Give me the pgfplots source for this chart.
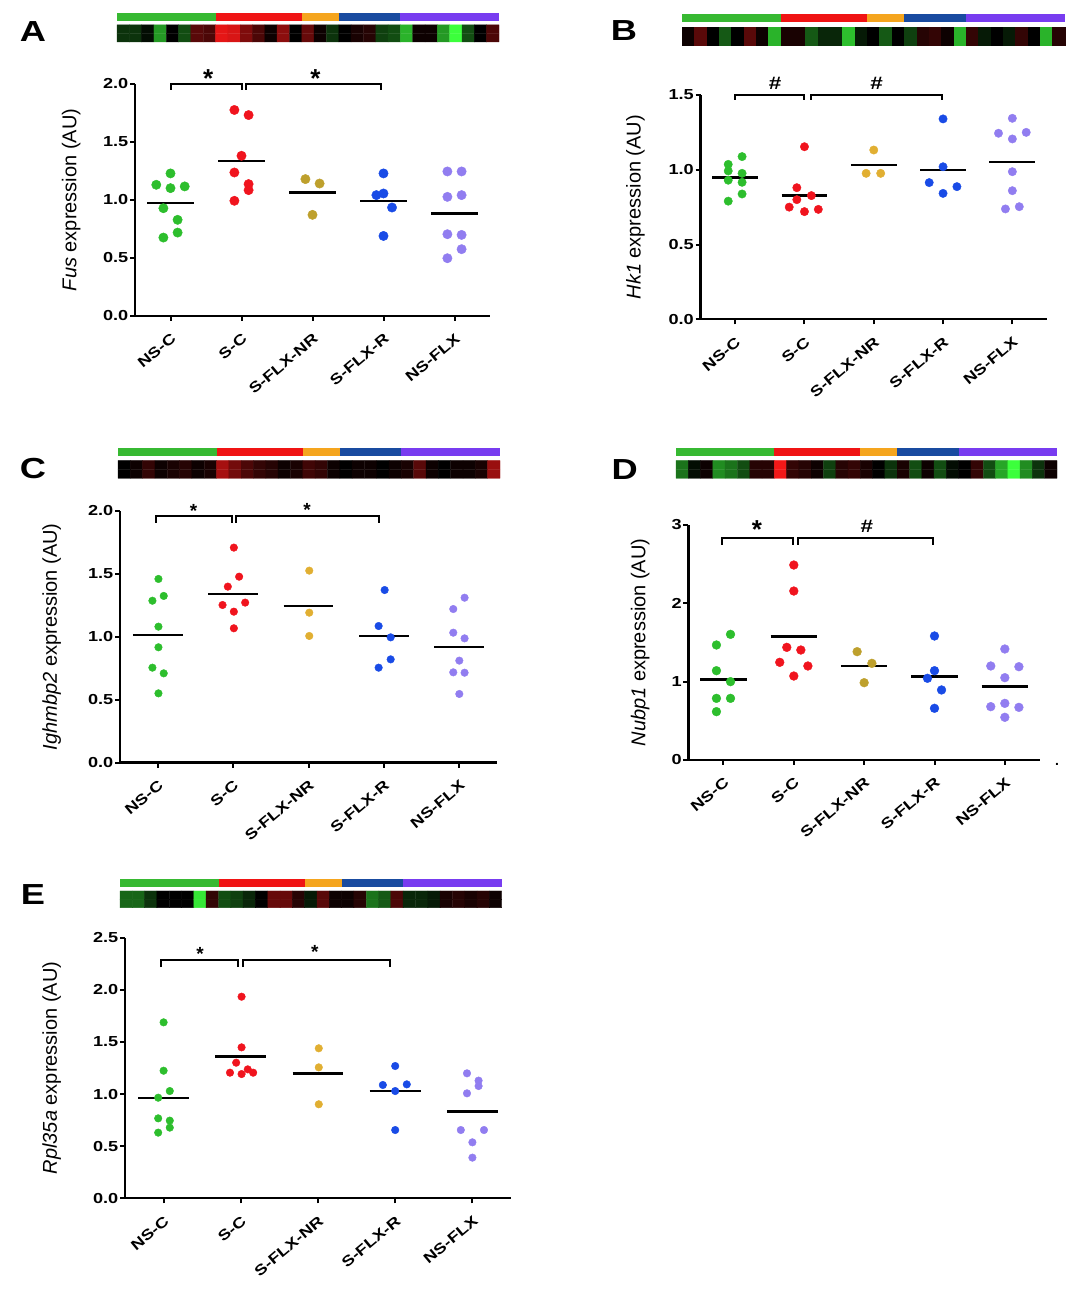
\documentclass[border=0pt]{standalone}
\usepackage{fontspec}
\setmainfont{Liberation Sans}
\newfontfamily\wide{Liberation Sans}[FakeStretch=1.25]
\usepackage{pgfplots}
\pgfplotsset{compat=1.18}

\definecolor{cNSC}{RGB}{45,190,45}
\definecolor{cSC}{RGB}{240,20,30}
\definecolor{cNRa}{RGB}{190,160,45}
\definecolor{cNRb}{RGB}{225,175,50}
\definecolor{cR}{RGB}{25,75,230}
\definecolor{cFLX}{RGB}{145,125,240}
\definecolor{bG}{RGB}{55,185,50}
\definecolor{bR}{RGB}{240,20,20}
\definecolor{bO}{RGB}{245,165,30}
\definecolor{bB}{RGB}{25,75,160}
\definecolor{bP}{RGB}{120,60,240}
\newcommand{\fs}[1]{\fontsize{#1}{#1}\selectfont}

\pgfplotsset{
  dots/.style={
    scale only axis, anchor=south west, clip=false,
    xmin=-0.5, xmax=4.5, ymin=0,
    axis lines=left,
    axis line style={-, line width=2.4pt, black},
    every outer x axis line/.append style={-},
    every outer y axis line/.append style={-},
    tick align=outside, major tick length=5pt,
    tick style={line width=2pt, black},
    xtick={0,1,2,3,4},
    xticklabels={NS-C,S-C,S-FLX-NR,S-FLX-R,NS-FLX},
    x tick label style={yshift=-10pt, rotate=40, anchor=north east, inner sep=1pt, font=\wide\bfseries\fs{14.5}},
    y tick label style={font=\wide\bfseries\fs{14.5}, inner sep=1.5pt},
    /pgf/number format/assume math mode=true,
    ylabel style={font=\fs{20}, anchor=center},
  },
  fix1/.style={y tick label style={/pgf/number format/fixed, /pgf/number format/fixed zerofill, /pgf/number format/precision=1}},
  grp/.style 2 args={only marks, mark=*, mark size=#2pt, color=#1, mark options={draw=none, fill=#1}},
  mean/.style={no marks, black, line width=2.4pt},
  strip/.style={scale only axis, anchor=south west, hide axis, xmin=-0.5, xmax=30.5, ymin=-0.5, ymax=2.9,
    colormap={gkr}{rgb255=(60,255,60) rgb255=(0,0,0) rgb255=(255,25,25)},
    point meta min=-1, point meta max=1, clip=false},
  heat/.style={matrix plot*, mesh/cols=31, point meta=explicit},
  seg/.style={draw=none, no marks, fill=#1},
}
\tikzset{
  brk/.style={line width=2pt, black},
  letter/.style={font=\wide\bfseries\fs{29}, anchor=base, inner sep=0pt},
  star/.style={font=\bfseries\fs{#1}, inner sep=0pt, yshift=-0.215*#1pt},
  hash/.style={font=\wide\bfseries\fs{18}, inner sep=0pt},
}

\begin{document}
\begin{tikzpicture}[x=1pt,y=1pt]
\path[use as bounding box] (0,0) rectangle (1082,1300);

%================ A =================
\node[letter] at (33,1258.3) {A};
\begin{axis}[strip, at={(117pt,1258pt)}, width=382pt, height=29pt]
\addplot[heat] coordinates {(0,0)[-0.2] (1,0)[-0.2] (2,0)[-0.05] (3,0)[-0.6] (4,0)[0] (5,0)[-0.3] (6,0)[0.35] (7,0)[0.3] (8,0)[0.9] (9,0)[0.85] (10,0)[0.5] (11,0)[0.3] (12,0)[0.05] (13,0)[0.55] (14,0)[0] (15,0)[0.4] (16,0)[0.05] (17,0)[-0.2] (18,0)[0] (19,0)[0.1] (20,0)[0.15] (21,0)[-0.25] (22,0)[-0.3] (23,0)[-0.7] (24,0)[0.05] (25,0)[0.05] (26,0)[-0.6] (27,0)[-1] (28,0)[-0.3] (29,0)[0] (30,0)[0.3]
(0,1)[-0.2] (1,1)[-0.2] (2,1)[-0.05] (3,1)[-0.6] (4,1)[0] (5,1)[-0.3] (6,1)[0.35] (7,1)[0.3] (8,1)[0.9] (9,1)[0.85] (10,1)[0.5] (11,1)[0.3] (12,1)[0.05] (13,1)[0.55] (14,1)[0] (15,1)[0.4] (16,1)[0.05] (17,1)[-0.2] (18,1)[0] (19,1)[0.1] (20,1)[0.15] (21,1)[-0.25] (22,1)[-0.3] (23,1)[-0.7] (24,1)[0.05] (25,1)[0.05] (26,1)[-0.6] (27,1)[-1] (28,1)[-0.3] (29,1)[0] (30,1)[0.3]};
\addplot[seg=bG] coordinates {(-0.5,2) (7.5,2) (7.5,2.9) (-0.5,2.9)};
\addplot[seg=bR] coordinates {(7.5,2) (14.5,2) (14.5,2.9) (7.5,2.9)};
\addplot[seg=bO] coordinates {(14.5,2) (17.5,2) (17.5,2.9) (14.5,2.9)};
\addplot[seg=bB] coordinates {(17.5,2) (22.5,2) (22.5,2.9) (17.5,2.9)};
\addplot[seg=bP] coordinates {(22.5,2) (30.5,2) (30.5,2.9) (22.5,2.9)};
\end{axis}
\begin{axis}[dots, fix1, at={(135pt,984pt)}, width=355pt, height=232pt, ymax=2, ytick={0,0.5,1,1.5,2},
  ylabel={{\itshape Fus} expression (AU)}, ylabel style={at={(axis description cs:-0.18,0.5)}}]
\addplot[grp={cNSC}{4.7}] coordinates {(0,1.229) (-0.2,1.131) (0,1.102) (0.2,1.117) (-0.1,0.929) (0.1,0.829) (0.1,0.719) (-0.1,0.676)};
\addplot[grp={cSC}{4.7}] coordinates {(0.9,1.776) (1.1,1.732) (1.0,1.381) (0.9,1.237) (1.1,1.137) (1.1,1.085) (0.9,0.993)};
\addplot[grp={cNRa}{4.7}] coordinates {(1.9,1.18) (2.1,1.142) (2.0,0.872)};
\addplot[grp={cR}{4.7}] coordinates {(3.0,1.229) (2.9,1.042) (3.0,1.056) (3.12,0.935) (3.0,0.69)};
\addplot[grp={cFLX}{4.7}] coordinates {(3.9,1.246) (4.1,1.246) (3.9,1.027) (4.1,1.042) (3.9,0.705) (4.1,0.699) (4.1,0.576) (3.9,0.498)};
\addplot[mean] coordinates {(-0.33,0.973) (0.33,0.973)};
\addplot[mean] coordinates {(0.67,1.338) (1.33,1.338)};
\addplot[mean] coordinates {(1.67,1.065) (2.33,1.065)};
\addplot[mean] coordinates {(2.67,0.993) (3.33,0.993)};
\addplot[mean] coordinates {(3.67,0.883) (4.33,0.883)};
\draw[brk] ([yshift=-6pt]axis cs:0,2) -- (axis cs:0,2) -- (axis cs:1,2) -- ([yshift=-6pt]axis cs:1,2);
\draw[brk] ([yshift=-6pt]axis cs:1.06,2) -- (axis cs:1.06,2) -- (axis cs:2.96,2) -- ([yshift=-6pt]axis cs:2.96,2);
\node[star=26] at (axis cs:0.53,2.092) {*};
\node[star=26] at (axis cs:2.04,2.092) {*};
\end{axis}

%================ B =================
\node[letter] at (624,1259.3) {B};
\begin{axis}[strip, at={(682pt,1254.3pt)}, width=383pt, height=31.7pt]
\addplot[heat] coordinates {(0,0)[0.05] (1,0)[0.35] (2,0)[0] (3,0)[-0.35] (4,0)[0] (5,0)[0.35] (6,0)[0.05] (7,0)[-0.7] (8,0)[0.1] (9,0)[0.1] (10,0)[-0.35] (11,0)[-0.15] (12,0)[-0.15] (13,0)[-0.75] (14,0)[-0.1] (15,0)[0] (16,0)[-0.35] (17,0)[0] (18,0)[-0.25] (19,0)[0.15] (20,0)[0.2] (21,0)[0.05] (22,0)[-0.7] (23,0)[0.2] (24,0)[-0.1] (25,0)[0] (26,0)[-0.1] (27,0)[0.2] (28,0)[0] (29,0)[-0.7] (30,0)[0.15]
(0,1)[0.05] (1,1)[0.35] (2,1)[0] (3,1)[-0.35] (4,1)[0] (5,1)[0.35] (6,1)[0.05] (7,1)[-0.7] (8,1)[0.1] (9,1)[0.1] (10,1)[-0.35] (11,1)[-0.15] (12,1)[-0.15] (13,1)[-0.75] (14,1)[-0.1] (15,1)[0] (16,1)[-0.35] (17,1)[0] (18,1)[-0.25] (19,1)[0.15] (20,1)[0.2] (21,1)[0.05] (22,1)[-0.7] (23,1)[0.2] (24,1)[-0.1] (25,1)[0] (26,1)[-0.1] (27,1)[0.2] (28,1)[0] (29,1)[-0.7] (30,1)[0.15]};
\addplot[seg=bG] coordinates {(-0.5,2) (7.5,2) (7.5,2.9) (-0.5,2.9)};
\addplot[seg=bR] coordinates {(7.5,2) (14.5,2) (14.5,2.9) (7.5,2.9)};
\addplot[seg=bO] coordinates {(14.5,2) (17.5,2) (17.5,2.9) (14.5,2.9)};
\addplot[seg=bB] coordinates {(17.5,2) (22.5,2) (22.5,2.9) (17.5,2.9)};
\addplot[seg=bP] coordinates {(22.5,2) (30.5,2) (30.5,2.9) (22.5,2.9)};
\end{axis}
\begin{axis}[dots, fix1, at={(700.5pt,980.7pt)}, width=346.5pt, height=224.3pt, ymax=1.5, ytick={0,0.5,1,1.5},
  ylabel={{\itshape Hk1} expression (AU)}, ylabel style={at={(axis description cs:-0.188,0.5)}}]
\addplot[grp={cNSC}{4.2}] coordinates {(-0.1,1.036) (0.1,1.088) (-0.1,0.992) (0.1,0.976) (-0.1,0.93) (0.1,0.916) (-0.1,0.79) (0.1,0.838)};
\addplot[grp={cSC}{4.2}] coordinates {(1.0,1.154) (0.89,0.88) (1.1,0.827) (0.89,0.80) (0.78,0.75) (1.0,0.72) (1.2,0.735)};
\addplot[grp={cNRb}{4.2}] coordinates {(2.0,1.132) (1.89,0.976) (2.1,0.976)};
\addplot[grp={cR}{4.2}] coordinates {(3.0,1.34) (3.0,1.02) (2.8,0.914) (3.2,0.887) (3.0,0.842)};
\addplot[grp={cFLX}{4.2}] coordinates {(4.0,1.344) (3.8,1.244) (4.2,1.25) (4.0,1.206) (4.0,0.987) (4.0,0.86) (3.9,0.738) (4.1,0.753)};
\addplot[mean] coordinates {(-0.33,0.947) (0.33,0.947)};
\addplot[mean] coordinates {(0.67,0.827) (1.33,0.827)};
\addplot[mean] coordinates {(1.67,1.032) (2.33,1.032)};
\addplot[mean] coordinates {(2.67,0.998) (3.33,0.998)};
\addplot[mean] coordinates {(3.67,1.05) (4.33,1.05)};
\draw[brk] ([yshift=-5pt]axis cs:0,1.5) -- (axis cs:0,1.5) -- (axis cs:1,1.5) -- ([yshift=-5pt]axis cs:1,1.5);
\draw[brk] ([yshift=-5pt]axis cs:1.09,1.5) -- (axis cs:1.09,1.5) -- (axis cs:2.985,1.5) -- ([yshift=-5pt]axis cs:2.985,1.5);
\node[hash] at (axis cs:0.575,1.578) {\#};
\node[hash] at (axis cs:2.04,1.578) {\#};
\end{axis}

%================ C =================
\node[letter] at (33,821.7) {C};
\begin{axis}[strip, at={(118pt,821.7pt)}, width=382pt, height=30pt]
\addplot[heat] coordinates {(0,0)[0] (1,0)[0.05] (2,0)[0.2] (3,0)[0.05] (4,0)[0.1] (5,0)[0.15] (6,0)[0.05] (7,0)[0.1] (8,0)[0.65] (9,0)[0.45] (10,0)[0.3] (11,0)[0.2] (12,0)[0.15] (13,0)[0.05] (14,0)[0.1] (15,0)[0.25] (16,0)[0.2] (17,0)[0.05] (18,0)[0] (19,0)[0.05] (20,0)[0.05] (21,0)[0] (22,0)[0.05] (23,0)[0.1] (24,0)[0.35] (25,0)[0.05] (26,0)[0] (27,0)[0.05] (28,0)[0.05] (29,0)[0.1] (30,0)[0.6]
(0,1)[0] (1,1)[0.05] (2,1)[0.2] (3,1)[0.05] (4,1)[0.1] (5,1)[0.15] (6,1)[0.05] (7,1)[0.1] (8,1)[0.65] (9,1)[0.45] (10,1)[0.3] (11,1)[0.2] (12,1)[0.15] (13,1)[0.05] (14,1)[0.1] (15,1)[0.25] (16,1)[0.2] (17,1)[0.05] (18,1)[0] (19,1)[0.05] (20,1)[0.05] (21,1)[0] (22,1)[0.05] (23,1)[0.1] (24,1)[0.35] (25,1)[0.05] (26,1)[0] (27,1)[0.05] (28,1)[0.05] (29,1)[0.1] (30,1)[0.6]};
\addplot[seg=bG] coordinates {(-0.5,2) (7.5,2) (7.5,2.9) (-0.5,2.9)};
\addplot[seg=bR] coordinates {(7.5,2) (14.5,2) (14.5,2.9) (7.5,2.9)};
\addplot[seg=bO] coordinates {(14.5,2) (17.5,2) (17.5,2.9) (14.5,2.9)};
\addplot[seg=bB] coordinates {(17.5,2) (22.5,2) (22.5,2.9) (17.5,2.9)};
\addplot[seg=bP] coordinates {(22.5,2) (30.5,2) (30.5,2.9) (22.5,2.9)};
\end{axis}
\begin{axis}[dots, fix1, at={(120pt,537.3pt)}, width=377pt, height=251.7pt, ymax=2, ytick={0,0.5,1,1.5,2},
  ylabel={{\itshape Ighmbp2} expression (AU)}, ylabel style={at={(axis description cs:-0.181,0.5)}}]
\addplot[grp={cNSC}{3.8}] coordinates {(0.01,1.46) (0.08,1.325) (-0.07,1.287) (0.01,1.081) (0.01,0.917) (-0.07,0.755) (0.08,0.71) (0.01,0.551)};
\addplot[grp={cSC}{3.8}] coordinates {(1.01,1.709) (1.08,1.478) (0.93,1.399) (0.86,1.253) (1.16,1.272) (1.01,1.2) (1.01,1.068)};
\addplot[grp={cNRb}{3.8}] coordinates {(2.01,1.526) (2.01,1.192) (2.01,1.007)};
\addplot[grp={cR}{3.8}] coordinates {(3.01,1.372) (2.93,1.086) (3.09,0.996) (3.09,0.821) (2.93,0.755)};
\addplot[grp={cFLX}{3.8}] coordinates {(4.07,1.311) (3.92,1.221) (3.92,1.033) (4.07,0.988) (4.0,0.811) (3.92,0.718) (4.07,0.715) (4.0,0.546)};
\addplot[mean] coordinates {(-0.33,1.015) (0.33,1.015)};
\addplot[mean] coordinates {(0.67,1.34) (1.33,1.34)};
\addplot[mean] coordinates {(1.67,1.245) (2.33,1.245)};
\addplot[mean] coordinates {(2.67,1.007) (3.33,1.007)};
\addplot[mean] coordinates {(3.67,0.917) (4.33,0.917)};
\draw[brk] ([yshift=-6.5pt]axis cs:-0.02,1.96) -- (axis cs:-0.02,1.96) -- (axis cs:0.99,1.96) -- ([yshift=-6.5pt]axis cs:0.99,1.96);
\draw[brk] ([yshift=-6.5pt]axis cs:1.036,1.96) -- (axis cs:1.036,1.96) -- (axis cs:2.93,1.96) -- ([yshift=-6.5pt]axis cs:2.93,1.96);
\node[star=19] at (axis cs:0.476,2.029) {*};
\node[star=19] at (axis cs:1.98,2.04) {*};
\end{axis}

%================ D =================
\node[letter] at (624.7,820) {D};
\begin{axis}[strip, at={(676pt,821.7pt)}, width=381pt, height=30pt]
\addplot[heat] coordinates {(0,0)[-0.45] (1,0)[-0.05] (2,0)[0.05] (3,0)[-0.55] (4,0)[-0.45] (5,0)[-0.3] (6,0)[0.15] (7,0)[0.15] (8,0)[0.95] (9,0)[0.2] (10,0)[0.15] (11,0)[0.05] (12,0)[-0.25] (13,0)[0.15] (14,0)[0.2] (15,0)[0.1] (16,0)[0] (17,0)[-0.2] (18,0)[0.1] (19,0)[-0.3] (20,0)[0.05] (21,0)[-0.3] (22,0)[-0.05] (23,0)[0] (24,0)[0.2] (25,0)[-0.3] (26,0)[-0.65] (27,0)[-1] (28,0)[-0.55] (29,0)[-0.2] (30,0)[0.05]
(0,1)[-0.45] (1,1)[-0.05] (2,1)[0.05] (3,1)[-0.55] (4,1)[-0.45] (5,1)[-0.3] (6,1)[0.15] (7,1)[0.15] (8,1)[0.95] (9,1)[0.2] (10,1)[0.15] (11,1)[0.05] (12,1)[-0.25] (13,1)[0.15] (14,1)[0.2] (15,1)[0.1] (16,1)[0] (17,1)[-0.2] (18,1)[0.1] (19,1)[-0.3] (20,1)[0.05] (21,1)[-0.3] (22,1)[-0.05] (23,1)[0] (24,1)[0.2] (25,1)[-0.3] (26,1)[-0.65] (27,1)[-1] (28,1)[-0.55] (29,1)[-0.2] (30,1)[0.05]};
\addplot[seg=bG] coordinates {(-0.5,2) (7.5,2) (7.5,2.9) (-0.5,2.9)};
\addplot[seg=bR] coordinates {(7.5,2) (14.5,2) (14.5,2.9) (7.5,2.9)};
\addplot[seg=bO] coordinates {(14.5,2) (17.5,2) (17.5,2.9) (14.5,2.9)};
\addplot[seg=bB] coordinates {(17.5,2) (22.5,2) (22.5,2.9) (17.5,2.9)};
\addplot[seg=bP] coordinates {(22.5,2) (30.5,2) (30.5,2.9) (22.5,2.9)};
\end{axis}
\begin{axis}[dots, at={(688.3pt,540pt)}, width=351.7pt, height=235pt, ymax=3, ytick={0,1,2,3},
  ylabel={{\itshape Nubp1} expression (AU)}, ylabel style={at={(axis description cs:-0.137,0.5)}}]
\addplot[grp={cNSC}{4.4}] coordinates {(0.1,1.604) (-0.1,1.468) (-0.1,1.14) (0.1,1.0) (-0.1,0.787) (0.1,0.787) (-0.1,0.617)};
\addplot[grp={cSC}{4.4}] coordinates {(1.0,2.489) (1.0,2.157) (0.9,1.438) (1.1,1.404) (0.8,1.247) (1.2,1.2) (1.0,1.072)};
\addplot[grp={cNRa}{4.4}] coordinates {(1.9,1.383) (2.11,1.234) (2.0,0.987)};
\addplot[grp={cR}{4.4}] coordinates {(3.0,1.583) (3.0,1.14) (2.9,1.043) (3.1,0.894) (3.0,0.66)};
\addplot[grp={cFLX}{4.4}] coordinates {(4.0,1.417) (3.8,1.2) (4.2,1.191) (4.0,1.051) (3.8,0.681) (4.0,0.723) (4.2,0.672) (4.0,0.545)};
\addplot[mean] coordinates {(-0.33,1.03) (0.33,1.03)};
\addplot[mean] coordinates {(0.67,1.574) (1.33,1.574)};
\addplot[mean] coordinates {(1.67,1.2) (2.33,1.2)};
\addplot[mean] coordinates {(2.67,1.064) (3.33,1.064)};
\addplot[mean] coordinates {(3.67,0.936) (4.33,0.936)};
\draw[brk] ([yshift=-6.5pt]axis cs:-0.015,2.83) -- (axis cs:-0.015,2.83) -- (axis cs:0.99,2.83) -- ([yshift=-6.5pt]axis cs:0.99,2.83);
\draw[brk] ([yshift=-6.5pt]axis cs:1.06,2.83) -- (axis cs:1.06,2.83) -- (axis cs:2.975,2.83) -- ([yshift=-6.5pt]axis cs:2.975,2.83);
\node[star=26] at (axis cs:0.475,3.013) {*};
\node[hash] at (axis cs:2.04,2.979) {\#};
\end{axis}
\node[font=\bfseries\fs{14}, anchor=base, inner sep=0pt] at (1057,534) {.};

%================ E =================
\node[letter] at (33,395) {E};
\begin{axis}[strip, at={(120pt,392.3pt)}, width=381.7pt, height=28.4pt]
\addplot[heat] coordinates {(0,0)[-0.4] (1,0)[-0.4] (2,0)[-0.2] (3,0)[0] (4,0)[0] (5,0)[0] (6,0)[-0.9] (7,0)[0.2] (8,0)[-0.3] (9,0)[-0.25] (10,0)[-0.15] (11,0)[0] (12,0)[0.4] (13,0)[0.4] (14,0)[0.15] (15,0)[-0.1] (16,0)[0.35] (17,0)[0.05] (18,0)[0.05] (19,0)[0.15] (20,0)[-0.45] (21,0)[-0.35] (22,0)[0.3] (23,0)[-0.15] (24,0)[-0.15] (25,0)[-0.1] (26,0)[0.1] (27,0)[0.15] (28,0)[0.1] (29,0)[0.15] (30,0)[0.05]
(0,1)[-0.4] (1,1)[-0.4] (2,1)[-0.2] (3,1)[0] (4,1)[0] (5,1)[0] (6,1)[-0.9] (7,1)[0.2] (8,1)[-0.3] (9,1)[-0.25] (10,1)[-0.15] (11,1)[0] (12,1)[0.4] (13,1)[0.4] (14,1)[0.15] (15,1)[-0.1] (16,1)[0.35] (17,1)[0.05] (18,1)[0.05] (19,1)[0.15] (20,1)[-0.45] (21,1)[-0.35] (22,1)[0.3] (23,1)[-0.15] (24,1)[-0.15] (25,1)[-0.1] (26,1)[0.1] (27,1)[0.15] (28,1)[0.1] (29,1)[0.15] (30,1)[0.05]};
\addplot[seg=bG] coordinates {(-0.5,2) (7.5,2) (7.5,2.9) (-0.5,2.9)};
\addplot[seg=bR] coordinates {(7.5,2) (14.5,2) (14.5,2.9) (7.5,2.9)};
\addplot[seg=bO] coordinates {(14.5,2) (17.5,2) (17.5,2.9) (14.5,2.9)};
\addplot[seg=bB] coordinates {(17.5,2) (22.5,2) (22.5,2.9) (17.5,2.9)};
\addplot[seg=bP] coordinates {(22.5,2) (30.5,2) (30.5,2.9) (22.5,2.9)};
\end{axis}
\begin{axis}[dots, fix1, at={(125pt,101.7pt)}, width=386pt, height=260.6pt, ymax=2.5, ytick={0,0.5,1,1.5,2,2.5},
  ylabel={{\itshape Rpl35a} expression (AU)}, ylabel style={at={(axis description cs:-0.19,0.5)}}]
\addplot[grp={cNSC}{3.8}] coordinates {(0,1.688) (0,1.224) (0.08,1.029) (-0.07,0.965) (-0.07,0.767) (0.08,0.745) (0.08,0.678) (-0.07,0.63)};
\addplot[grp={cSC}{3.8}] coordinates {(1.01,1.934) (1.01,1.448) (0.94,1.301) (0.86,1.205) (1.09,1.237) (1.01,1.192) (1.16,1.205)};
\addplot[grp={cNRb}{3.8}] coordinates {(2.01,1.439) (2.01,1.256) (2.01,0.902)};
\addplot[grp={cR}{3.8}] coordinates {(3.0,1.269) (2.84,1.087) (3.15,1.093) (3.0,1.029) (3.0,0.655)};
\addplot[grp={cFLX}{3.8}] coordinates {(3.93,1.199) (4.08,1.129) (4.08,1.077) (3.93,1.007) (3.85,0.655) (4.15,0.655) (4.0,0.537) (4.0,0.39)};
\addplot[mean] coordinates {(-0.33,0.965) (0.33,0.965)};
\addplot[mean] coordinates {(0.67,1.359) (1.33,1.359)};
\addplot[mean] coordinates {(1.67,1.199) (2.33,1.199)};
\addplot[mean] coordinates {(2.67,1.029) (3.33,1.029)};
\addplot[mean] coordinates {(3.67,0.831) (4.33,0.831)};
\draw[brk] ([yshift=-7pt]axis cs:-0.03,2.286) -- (axis cs:-0.03,2.286) -- (axis cs:0.97,2.286) -- ([yshift=-7pt]axis cs:0.97,2.286);
\draw[brk] ([yshift=-7pt]axis cs:1.034,2.286) -- (axis cs:1.034,2.286) -- (axis cs:2.93,2.286) -- ([yshift=-7pt]axis cs:2.93,2.286);
\node[star=19] at (axis cs:0.474,2.382) {*};
\node[star=19] at (axis cs:1.96,2.398) {*};
\end{axis}
\end{tikzpicture}
\end{document}
